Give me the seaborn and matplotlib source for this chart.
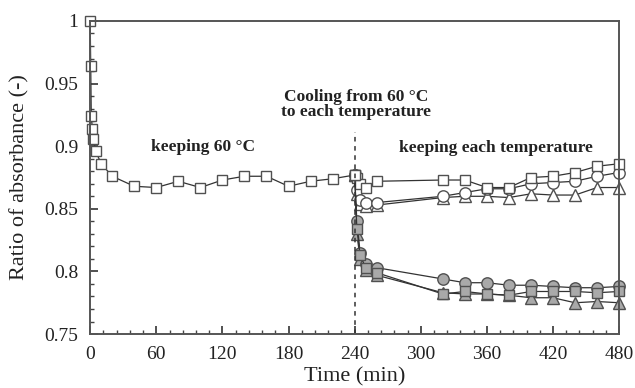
import pandas as pd
import matplotlib.pyplot as plt
import seaborn as sns
from matplotlib.ticker import MultipleLocator

# ratio of absorbance
t_keep = [0, 0.5, 1, 2, 3, 5, 10, 20, 40, 60, 80, 100, 120, 140, 160, 180, 200, 220, 240]
r_keep = [1.0, 0.964, 0.924, 0.914, 0.906, 0.896, 0.886, 0.876, 0.868, 0.867, 0.872,
          0.867, 0.873, 0.876, 0.876, 0.868, 0.872, 0.874, 0.877]

t_cool = [240, 242, 245, 250, 260, 320, 340, 360, 380, 400, 420, 440, 460, 480]
open_sq = [0.877, 0.875, 0.870, 0.867, 0.872, 0.873, 0.873, 0.867, 0.867, 0.875, 0.876, 0.879, 0.884, 0.886]
open_ci = [0.877, 0.865, 0.857, 0.855, 0.855, 0.860, 0.863, 0.866, 0.866, 0.870, 0.871, 0.872, 0.876, 0.879]
open_tr = [0.877, 0.862, 0.854, 0.852, 0.853, 0.859, 0.860, 0.860, 0.859, 0.862, 0.861, 0.861, 0.867, 0.867]
gray_ci = [0.877, 0.840, 0.815, 0.806, 0.803, 0.794, 0.791, 0.791, 0.789, 0.789, 0.788, 0.787, 0.787, 0.788]
gray_sq = [0.877, 0.834, 0.813, 0.803, 0.799, 0.782, 0.784, 0.782, 0.781, 0.784, 0.784, 0.784, 0.783, 0.784]
gray_tr = [0.877, 0.830, 0.810, 0.801, 0.797, 0.783, 0.782, 0.782, 0.781, 0.779, 0.779, 0.775, 0.776, 0.775]

sns.set_style("ticks")
plt.rcParams['font.family'] = ['Liberation Serif', 'DejaVu Serif']

fig, ax = plt.subplots(figsize=(6.35, 3.88), dpi=100)
fig.subplots_adjust(left=0.142, right=0.975, bottom=0.139, top=0.946)

line_kw = dict(color="#333333", linewidth=0.9, markeredgecolor="#505050",
               markeredgewidth=1.0, clip_on=False, estimator=None, sort=False)

# draw triangles first, then circles, squares on top
series = [
    (open_tr, "^", "white", 9.0),
    (gray_tr, "^", "#a9a9a9", 9.0),
    (open_ci, "o", "white", 8.2),
    (gray_ci, "o", "#a9a9a9", 8.2),
    (open_sq, "s", "white", 7.6),
    (gray_sq, "s", "#a9a9a9", 7.6),
]
for vals, mk, face, ms in series:
    sns.lineplot(x=t_cool, y=vals, marker=mk, markersize=ms,
                 markerfacecolor=face, ax=ax, **line_kw)

sns.lineplot(x=t_keep, y=r_keep, marker="s", markersize=7.6,
             markerfacecolor="white", ax=ax, **line_kw)

ax.vlines(240, 0.75, 0.911, colors="#333333", linestyles=(0, (3, 3)), linewidth=1.1)

ax.text(102, 0.8994, "keeping 60 °C", ha="center", va="center",
        fontsize=12.5, fontweight="bold", color="#222222")
ax.text(368, 0.8986, "keeping each temperature", ha="center", va="center",
        fontsize=12.5, fontweight="bold", color="#222222")
ax.text(241.5, 0.9335, "Cooling from 60 °C\nto each temperature", ha="center",
        va="center", fontsize=12.5, fontweight="bold", color="#222222", linespacing=0.95)

ax.set_xlim(0, 480)
ax.set_ylim(0.75, 1.0)
ax.xaxis.set_major_locator(MultipleLocator(60))
ax.xaxis.set_minor_locator(MultipleLocator(12))
ax.yaxis.set_major_locator(MultipleLocator(0.05))
ax.yaxis.set_minor_locator(MultipleLocator(0.01))
ax.set_yticks([0.75, 0.8, 0.85, 0.9, 0.95, 1.0])
ax.set_yticklabels(["0.75", "0.8", "0.85", "0.9", "0.95", "1"])

ax.tick_params(which="major", direction="in", length=6, width=1.1, labelsize=14,
               colors="#222222", pad=8.5)
ax.tick_params(which="minor", direction="in", length=3, width=1.0, colors="#444444")
for s in ax.spines.values():
    s.set_visible(True)
    s.set_linewidth(1.4)
    s.set_color("#555555")

ax.set_xlabel("Time (min)", fontsize=16, color="#222222", labelpad=3)
ax.set_ylabel("Ratio of absorbance (-)", fontsize=16, color="#222222")
ax.yaxis.set_label_coords(-0.115, 0.5)

plt.savefig("out.png", dpi=100)
